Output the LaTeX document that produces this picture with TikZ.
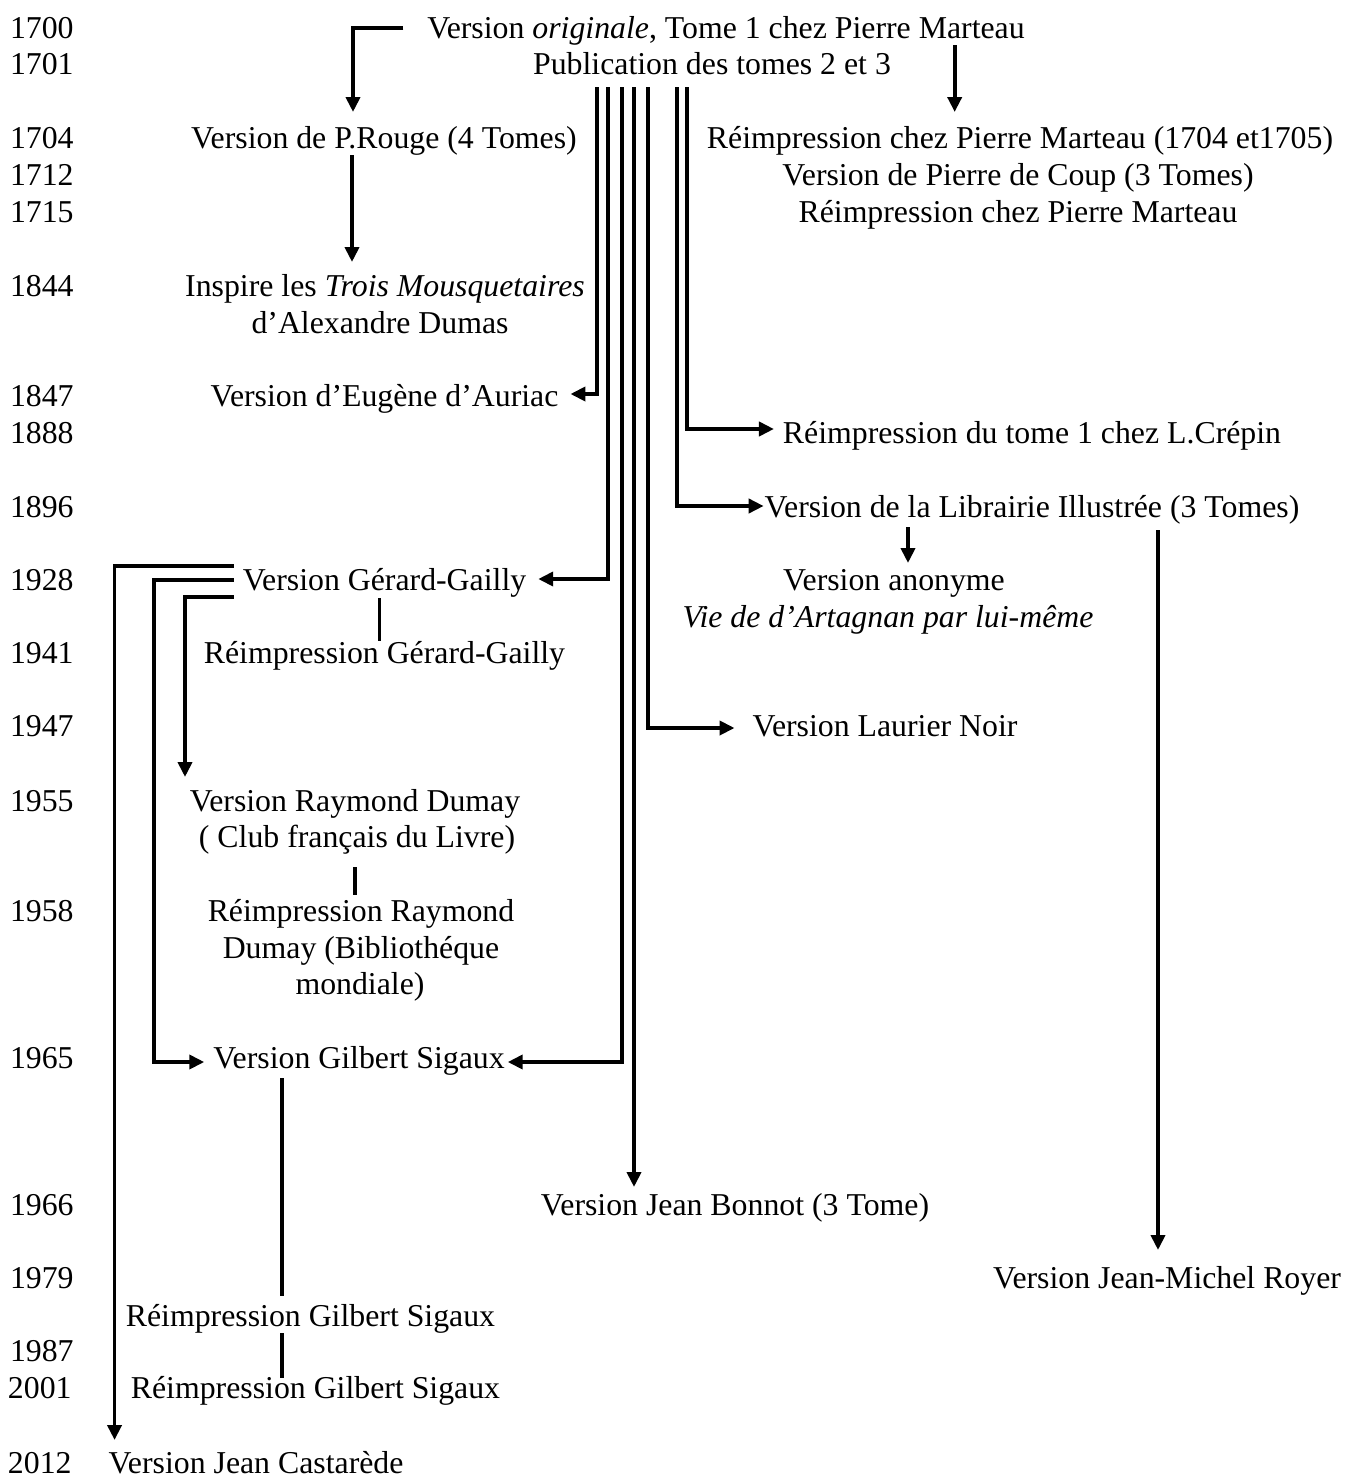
\documentclass[tikz,border=0pt]{standalone}
\usepackage{fontspec}
\setmainfont{Liberation Serif}
\usetikzlibrary{arrows.meta,calc}
\newcommand\diagfont{\fontsize{31.8}{36.5}\selectfont}
\begin{document}
\begin{tikzpicture}[x=1pt,y=-1pt,
  every node/.style={inner sep=0pt,outer sep=0pt,font=\diagfont},
  lbl/.style={anchor=base},
  yr/.style={anchor=base west},
  ln/.style={line width=3.8pt,line join=miter},
  thin/.style={line width=3.2pt},
  arr/.style={ln,-{Triangle[length=15pt,width=14pt]}}]
\fill[white] (0,0) rectangle (1347,1478);
\useasboundingbox (0,0) rectangle (1347,1478);
% years
\foreach \yy/\yb in {1700/38,1701/74,1704/148,1712/185,1715/222,1844/296,1847/406,1888/443,1896/517,1928/590,1941/663,1947/736,1955/811,1958/921,1965/1068,1966/1215,1979/1288,1987/1361}
  \node[yr] (y\yy) at (10,\yb) {\yy};
\node[yr] (y2001) at (8,1398) {2001};
\node[yr] (y2012) at (8,1473) {2012};
% texts
\node[lbl] (orig) at (726,38) {Version \textit{originale}, Tome 1 chez Pierre Marteau};
\node[lbl] (pub) at (712,74) {Publication des tomes 2 et 3};
\node[lbl] (rouge) at (384,148) {Version de P.Rouge (4 Tomes)};
\node[lbl] (reimp1) at (1020,148) {Réimpression chez Pierre Marteau (1704 et1705)};
\node[lbl] (coup) at (1018,185) {Version de Pierre de Coup (3 Tomes)};
\node[lbl] (reimp2) at (1018,222) {Réimpression chez Pierre Marteau};
\node[lbl] (inspire) at (385,296) {Inspire les \textit{Trois Mousquetaires}};
\node[lbl] (dumas) at (380,333) {d’Alexandre Dumas};
\node[lbl] (auriac) at (384.5,406) {Version d’Eugène d’Auriac};
\node[lbl] (crepin) at (1032,443) {Réimpression du tome 1 chez L.Crépin};
\node[lbl] (librairie) at (1032,517) {Version de la Librairie Illustrée (3 Tomes)};
\node[lbl] (gerard) at (384.5,590) {Version Gérard-Gailly};
\node[lbl] (anonyme) at (894,590) {Version anonyme};
\node[lbl] (vie) at (888,627) {\textit{Vie de d’Artagnan par lui-même}};
\node[lbl] (reimpgg) at (384.5,663) {Réimpression Gérard-Gailly};
\node[lbl] (laurier) at (885,736) {Version Laurier Noir};
\node[lbl] (dumayA) at (355,811) {Version Raymond Dumay};
\node[lbl] (dumayB) at (357,847) {( Club français du Livre)};
\node[lbl] (rdumayA) at (361,921) {Réimpression Raymond};
\node[lbl] (rdumayB) at (361,958) {Dumay (Bibliothéque};
\node[lbl] (rdumayC) at (360,994) {mondiale)};
\node[lbl] (sigaux) at (359,1068) {Version Gilbert Sigaux};
\node[lbl] (bonnot) at (735,1215) {Version Jean Bonnot (3 Tome)};
\node[lbl] (royer) at (1167,1288) {Version Jean-Michel Royer};
\node[lbl] (rsigA) at (310.5,1326) {Réimpression Gilbert Sigaux};
\node[lbl] (rsigB) at (315.5,1398) {Réimpression Gilbert Sigaux};
\node[lbl] (castarede) at (256,1473) {Version Jean Castarède};
% connectors from the original
\draw[arr] ($(orig.base west)+(-24,-10)$) -| ($(rouge.base)+(-31,-36)$);
\draw[arr] ($(orig.base east)+(-70,7)$) -- ++(0,67);
\draw[arr] ($(rouge.base)+(-32,7)$) -- ++(0,107);
% bundle from Publication
\draw[arr] ($(pub.base)+(-115,13)$) |- ($(auriac.base east)+(12,-12)$);
\draw[arr] ($(pub.base)+(-104,13)$) |- ($(gerard.base east)+(12,-11)$);
\draw[arr] ($(pub.base)+(-90,13)$) |- ($(sigaux.base east)+(3,-6)$);
\draw[arr] ($(pub.base)+(-78,13)$) -- ++(0,1100);
\draw[arr] ($(pub.base)+(-64,13)$) |- ($(laurier.base west)+(-18,-8)$);
\draw[arr] ($(pub.base)+(-35,13)$) |- ($(librairie.base west)+(-1,-11)$);
\draw[arr] ($(pub.base)+(-25,13)$) |- ($(crepin.base west)+(-9,-14)$);
% Librairie
\draw[arr] ($(librairie.base)+(-124,10)$) -- ++(0,36);
\draw[arr] ($(librairie.base)+(126,13)$) -- ++(0,720);
% Gerard-Gailly
\draw[arr] ($(gerard.base west)+(-9,-24)$) -| ($(castarede.base west)+(6,-33)$);
\draw[arr] ($(gerard.base west)+(-9,-10)$) -- ++(-80,0) |- ($(sigaux.base west)+(-9,-6)$);
\draw[arr] ($(gerard.base west)+(-9,7)$) -| ($(dumayA.base)+(-170,-34)$);
\draw[thin] ($(gerard.base)+(-5,8)$) -- ++(0,43);
\draw[thin] ($(dumayB.base)+(-2,20)$) -- ++(0,28);
\draw[thin] ($(sigaux.base)+(-77,10)$) -- ++(0,218);
\draw[thin] ($(rsigA.base)+(-28.5,7)$) -- ++(0,45);
\end{tikzpicture}
\end{document}
